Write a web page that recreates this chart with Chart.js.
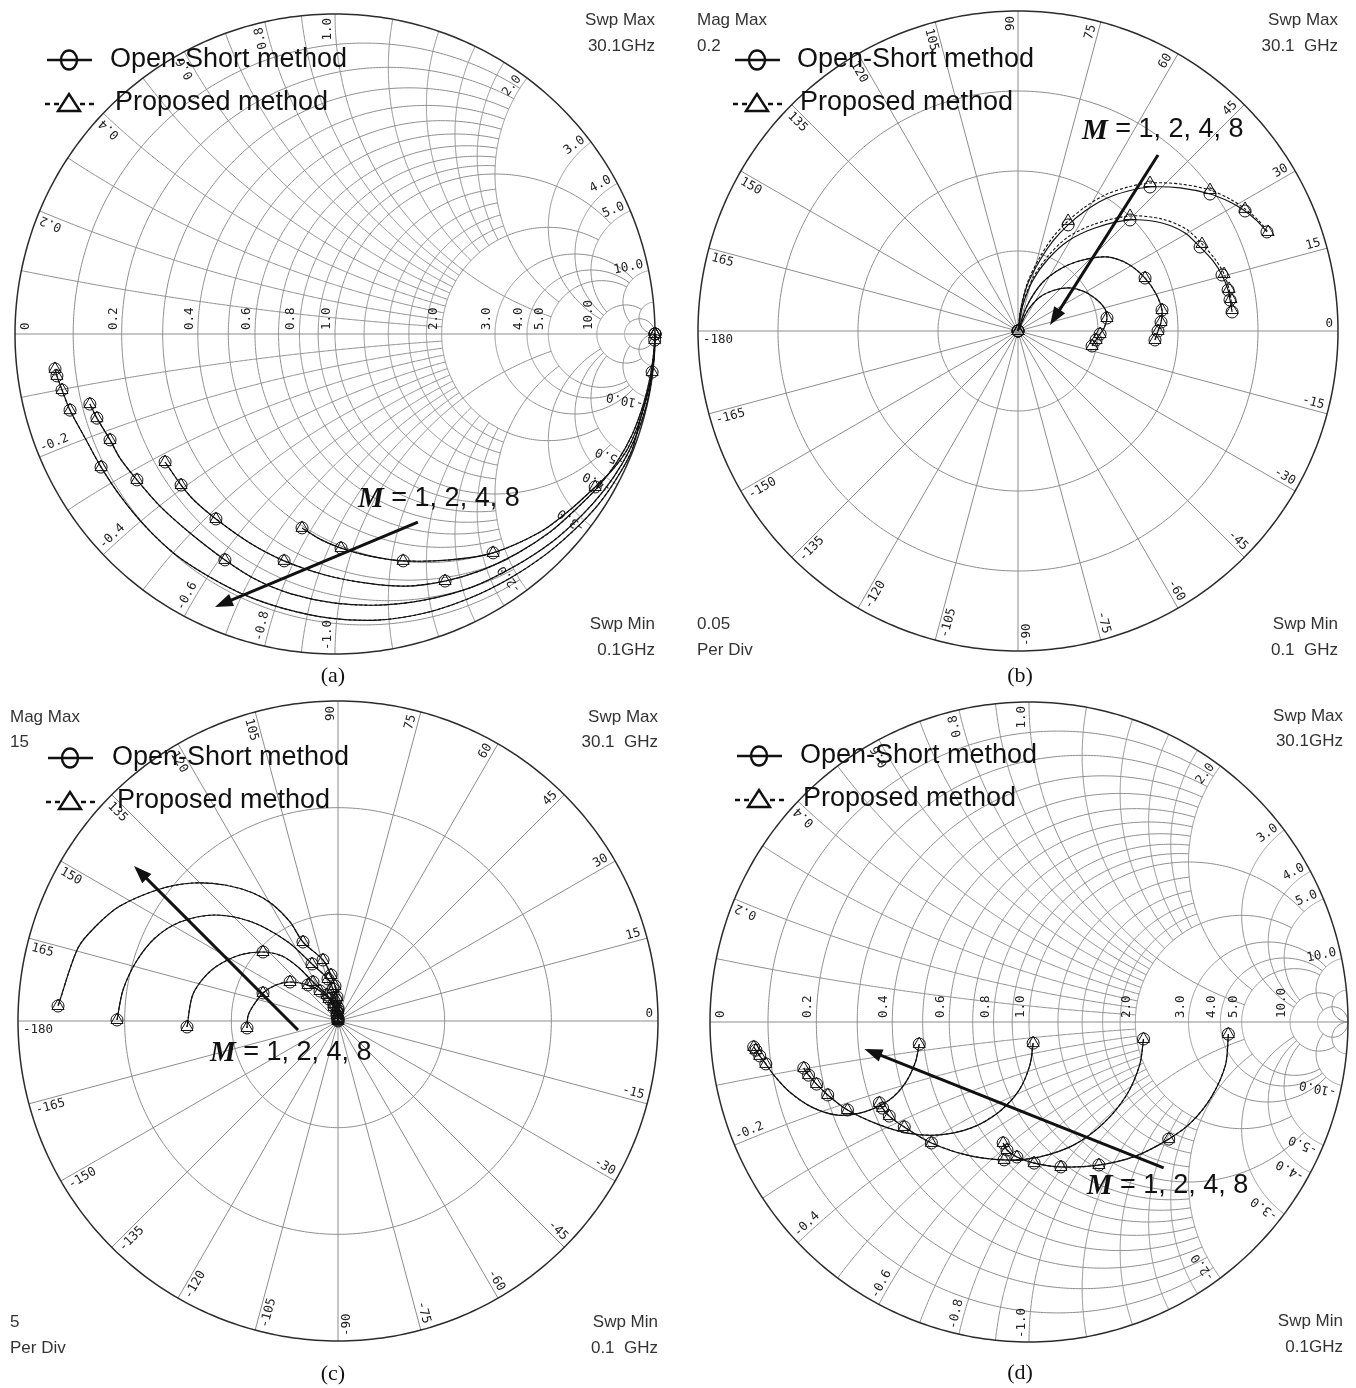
<!DOCTYPE html>
<html lang="en">
<head>
<meta charset="utf-8">
<title>Open-Short and proposed de-embedding, M = 1, 2, 4, 8</title>
<script src="https://cdn.jsdelivr.net/npm/chart.js@4.4.1/dist/chart.umd.min.js"></script>
<style>
  html, body { margin: 0; padding: 0; background: #fff; }
  body { position: relative; width: 1356px; height: 1388px; overflow: hidden; }
  canvas { position: absolute; }
  .cap { position: absolute; width: 60px; margin-left: -30px; text-align: center;
         font: 22px "Liberation Serif", "Times New Roman", serif; color: #111; line-height: 22px; }
</style>
</head>
<body>
<canvas id="cvA" width="678" height="690" style="left:0;top:0"></canvas>
<canvas id="cvB" width="678" height="690" style="left:678px;top:0"></canvas>
<canvas id="cvC" width="678" height="698" style="left:0;top:690px"></canvas>
<canvas id="cvD" width="678" height="698" style="left:678px;top:690px"></canvas>
<div class="cap" style="left:333px;top:664px">(a)</div>
<div class="cap" style="left:1020px;top:664px">(b)</div>
<div class="cap" style="left:333px;top:1362px">(c)</div>
<div class="cap" style="left:1020px;top:1361px">(d)</div>
<script>
// ---------------------------------------------------------------------------
// Data: sweep 0.1 GHz .. 30.1 GHz, one trace per finger count M.
// Each trace is a list of [re, im] samples; *_MK lists the samples that carry
// a marker symbol.
// ---------------------------------------------------------------------------
const M_VALUES = [1, 2, 4, 8];
const SERIES = ['Open-Short method', 'Proposed method'];

// (a) Smith chart, reflection coefficient (Re, Im)
const A_M1 = [[1.000,0.000],[0.999,-0.019],[0.997,-0.056],[0.991,-0.119],[0.975,-0.191],[0.953,-0.269],[0.916,-0.356],[0.869,-0.422],[0.813,-0.478],[0.734,-0.550],[0.641,-0.619],[0.494,-0.684],[0.359,-0.706],[0.213,-0.709],[0.109,-0.694],[0.019,-0.669],[-0.047,-0.641],[-0.103,-0.606]];
const A_M1_MK = [0,1,3,8,11,13,15,17];
const A_M2 = [[1.000,0.000],[0.997,-0.050],[0.984,-0.138],[0.963,-0.222],[0.928,-0.316],[0.881,-0.400],[0.822,-0.478],[0.750,-0.550],[0.672,-0.619],[0.572,-0.684],[0.459,-0.738],[0.344,-0.772],[0.219,-0.788],[0.094,-0.778],[-0.031,-0.753],[-0.159,-0.709],[-0.266,-0.653],[-0.372,-0.578],[-0.438,-0.522],[-0.481,-0.472],[-0.531,-0.400]];
const A_M2_MK = [0,11,15,17,19,20];
const A_M4 = [[1.000,0.000],[0.997,-0.066],[0.988,-0.150],[0.969,-0.238],[0.938,-0.325],[0.897,-0.406],[0.841,-0.488],[0.772,-0.566],[0.678,-0.650],[0.563,-0.725],[0.428,-0.791],[0.281,-0.831],[0.141,-0.847],[0.000,-0.841],[-0.134,-0.813],[-0.244,-0.769],[-0.344,-0.706],[-0.453,-0.622],[-0.547,-0.538],[-0.619,-0.456],[-0.672,-0.388],[-0.703,-0.331],[-0.744,-0.263],[-0.766,-0.219]];
const A_M4_MK = [0,16,19,21,22,23];
const A_M8 = [[1.000,0.000],[0.997,-0.075],[0.981,-0.169],[0.953,-0.269],[0.928,-0.363],[0.881,-0.450],[0.822,-0.534],[0.747,-0.613],[0.656,-0.691],[0.547,-0.763],[0.422,-0.825],[0.281,-0.872],[0.134,-0.894],[-0.016,-0.888],[-0.156,-0.859],[-0.281,-0.816],[-0.397,-0.756],[-0.500,-0.688],[-0.591,-0.603],[-0.669,-0.509],[-0.731,-0.416],[-0.781,-0.325],[-0.828,-0.238],[-0.853,-0.175],[-0.869,-0.131],[-0.875,-0.109]];
const A_M8_MK = [0,20,22,23,24,25];

// (b) polar, magnitude up to 0.2 (Re, Im)
const B_M1 = [[0,0],[0.0063,0.0131],[0.0138,0.0213],[0.0231,0.0256],[0.0325,0.0269],[0.0419,0.0244],[0.0494,0.0194],[0.0544,0.0138],[0.0556,0.0081],[0.0538,0.0019],[0.0513,-0.0019],[0.0488,-0.0056],[0.0463,-0.0094]];
const B_M1_MK = [0,8,10,11,12];
const B_M2 = [[0,0],[0.0056,0.0156],[0.0150,0.0300],[0.0275,0.0394],[0.0406,0.0444],[0.0556,0.0463],[0.0688,0.0419],[0.0794,0.0331],[0.0863,0.0231],[0.0900,0.0131],[0.0894,0.0056],[0.0875,0.0000],[0.0856,-0.0056]];
const B_M2_MK = [0,7,9,10,11,12];
const B_M4 = [[0,0],[0.0031,0.0163],[0.0094,0.0319],[0.0188,0.0450],[0.0313,0.0563],[0.0481,0.0644],[0.0700,0.0694],[0.0900,0.0675],[0.1044,0.0613],[0.1138,0.0525],[0.1219,0.0438],[0.1275,0.0350],[0.1313,0.0256],[0.1325,0.0194],[0.1338,0.0119]];
const B_M4_PM = [[0,0],[0.0031,0.0169],[0.0094,0.0331],[0.0188,0.0469],[0.0313,0.0588],[0.0481,0.0669],[0.0700,0.0719],[0.0900,0.0700],[0.1050,0.0638],[0.1150,0.0544],[0.1231,0.0450],[0.1288,0.0356],[0.1319,0.0263],[0.1331,0.0200],[0.1338,0.0131]];
const B_M4_MK = [0,6,9,11,12,13,14];
const B_M8 = [[0,0],[0.0019,0.0144],[0.0063,0.0300],[0.0138,0.0444],[0.0219,0.0563],[0.0313,0.0663],[0.0419,0.0750],[0.0544,0.0825],[0.0688,0.0875],[0.0825,0.0900],[0.1013,0.0894],[0.1200,0.0856],[0.1325,0.0806],[0.1419,0.0750],[0.1494,0.0688],[0.1556,0.0619]];
const B_M8_PM = [[0,0],[0.0019,0.0150],[0.0063,0.0313],[0.0138,0.0463],[0.0219,0.0588],[0.0313,0.0688],[0.0419,0.0775],[0.0544,0.0850],[0.0688,0.0900],[0.0825,0.0925],[0.1013,0.0919],[0.1200,0.0881],[0.1325,0.0825],[0.1419,0.0763],[0.1500,0.0694],[0.1563,0.0619]];
const B_M8_MK = [0,5,9,11,13,15];

// (c) polar, magnitude up to 15 (Re, Im)
const C_M1 = [[0,0],[-0.047,0.281],[-0.188,0.656],[-0.422,1.031],[-0.844,1.406],[-1.406,1.688],[-2.250,1.828],[-2.906,1.688],[-3.516,1.313],[-3.984,0.703],[-4.219,0.234],[-4.266,-0.328]];
const C_M1_MK = [0,1,2,3,4,5,6,8,11];
const C_M2 = [[0,0.047],[-0.047,0.422],[-0.188,0.797],[-0.516,1.219],[-1.172,1.828],[-1.875,2.531],[-2.625,3.047],[-3.516,3.234],[-4.594,3.094],[-5.672,2.578],[-6.375,1.922],[-6.844,1.125],[-7.078,-0.281]];
const C_M2_MK = [0,1,2,3,4,7,12];
const C_M4 = [[0,0.094],[0,0.516],[-0.094,0.984],[-0.234,1.500],[-0.469,1.969],[-1.219,2.672],[-2.344,3.703],[-4.031,4.641],[-5.766,4.969],[-7.406,4.641],[-8.578,3.891],[-9.469,2.766],[-10.078,1.453],[-10.359,0.047]];
const C_M4_MK = [0,1,2,3,4,5,13];
const C_M8 = [[0,0.141],[0,0.609],[-0.047,1.125],[-0.141,1.641],[-0.328,2.156],[-0.703,2.859],[-1.641,3.703],[-2.250,4.641],[-3.094,5.484],[-3.984,6.000],[-5.297,6.375],[-6.797,6.469],[-8.344,6.188],[-10.219,5.391],[-11.344,4.453],[-12.188,3.422],[-13.125,0.703]];
const C_M8_MK = [0,1,2,3,4,5,6,16];

// (d) Smith chart, reflection coefficient (Re, Im)
const D_M1 = [[0.625,-0.038],[0.616,-0.134],[0.572,-0.234],[0.509,-0.313],[0.438,-0.366],[0.334,-0.419],[0.219,-0.447],[0.100,-0.453],[0.016,-0.441],[-0.038,-0.422],[-0.069,-0.400],[-0.081,-0.378]];
const D_M1_MK = [0,4,6,7,8,9,10,11];
const D_M2 = [[0.359,-0.053],[0.347,-0.134],[0.306,-0.228],[0.234,-0.316],[0.141,-0.384],[0.031,-0.422],[-0.078,-0.431],[-0.194,-0.416],[-0.306,-0.378],[-0.391,-0.328],[-0.438,-0.294],[-0.459,-0.269],[-0.469,-0.253]];
const D_M2_MK = [0,6,8,9,10,11,12];
const D_M4 = [[0.013,-0.066],[0.003,-0.134],[-0.031,-0.213],[-0.094,-0.281],[-0.181,-0.331],[-0.281,-0.353],[-0.381,-0.347],[-0.475,-0.319],[-0.569,-0.275],[-0.631,-0.228],[-0.666,-0.194],[-0.691,-0.166],[-0.706,-0.144]];
const D_M4_MK = [0,8,9,10,11,12];
const D_M8 = [[-0.344,-0.069],[-0.356,-0.125],[-0.388,-0.191],[-0.438,-0.244],[-0.516,-0.281],[-0.600,-0.291],[-0.681,-0.266],[-0.750,-0.219],[-0.800,-0.166],[-0.825,-0.131],[-0.844,-0.106],[-0.856,-0.088],[-0.863,-0.078]];
const D_M8_MK = [0,9,10,11,12];

// Grid values: [value, limit of the crossing family]
const SMITH_R = [[0.1,2],[0.2,2],[0.3,2],[0.4,2],[0.5,2],[0.6,2],[0.7,2],[0.8,2],[0.9,2],[1,5],[1.2,2],[1.4,2],[1.6,2],[1.8,2],[2,5],[3,10],[4,10],[5,10],[10,20],[20,Infinity]];
const SMITH_X = [[0.1,2],[0.2,2],[0.3,2],[0.4,2],[0.5,2],[0.6,2],[0.7,2],[0.8,2],[0.9,2],[1,5],[1.2,2],[1.4,2],[1.6,2],[1.8,2],[2,5],[3,10],[4,10],[5,10],[10,20],[20,Infinity]];
const SMITH_R_LABELS = [0, 0.2, 0.4, 0.6, 0.8, 1, 2, 3, 4, 5, 10];
const SMITH_X_LABELS = [0.2, 0.4, 0.6, 0.8, 1, 2, 3, 4, 5, 10];
const POLAR_ANGLES = [0,15,30,45,60,75,90,105,120,135,150,165,180,-165,-150,-135,-120,-105,-90,-75,-60,-45,-30,-15];

// ---------------------------------------------------------------------------
// Styling
// ---------------------------------------------------------------------------
const GRID = '#8d8d8d', RIM = '#2b2b2b', INK = '#111', SOFT = '#333';
const SANS = '"Liberation Sans", Arial, Helvetica, sans-serif';
const MONO = '"DejaVu Sans Mono", "Liberation Mono", monospace';
const SERIF = '"Liberation Serif", "Times New Roman", serif';

function gammaOf(r, x) {
  const d = (r + 1) * (r + 1) + x * x;
  return [(r * r - 1 + x * x) / d, 2 * x / d];
}
function rCircle(r, xMax) {
  const pts = [], a = Math.atan(xMax), n = 400;
  for (let i = 0; i <= n; i++) pts.push(gammaOf(r, Math.tan(-a + 2 * a * i / n)));
  return pts;
}
function xArc(x, rMax) {
  const pts = [], a = Math.atan(rMax), n = 300;
  for (let i = 0; i <= n; i++) pts.push(gammaOf(Math.tan(a * i / n), x));
  return pts;
}
function ring(rad) {
  const pts = [];
  for (let i = 0; i <= 360; i++) { const t = i * Math.PI / 180; pts.push([rad * Math.cos(t), rad * Math.sin(t)]); }
  return pts;
}
function strokeData(chart, pts) {
  const ctx = chart.ctx, sx = chart.scales.x, sy = chart.scales.y;
  ctx.beginPath();
  pts.forEach((p, i) => {
    const X = sx.getPixelForValue(p[0]), Y = sy.getPixelForValue(p[1]);
    if (i) ctx.lineTo(X, Y); else ctx.moveTo(X, Y);
  });
  ctx.stroke();
}
function frame(chart) {
  const sx = chart.scales.x, sy = chart.scales.y;
  const cx = sx.getPixelForValue(0), cy = sy.getPixelForValue(0);
  return { cx, cy, rx: sx.right - cx, ry: cy - sy.top };
}
const fmt = v => v === 0 ? '0' : v.toFixed(1);

function drawSmith(chart) {
  const ctx = chart.ctx, f = frame(chart);
  ctx.save();
  ctx.strokeStyle = GRID; ctx.lineWidth = 1;
  SMITH_R.forEach(([r, xm]) => strokeData(chart, rCircle(r, xm)));
  SMITH_X.forEach(([x, rm]) => { strokeData(chart, xArc(x, rm)); strokeData(chart, xArc(-x, rm)); });
  strokeData(chart, [[-1, 0], [1, 0]]);
  ctx.strokeStyle = RIM; ctx.lineWidth = 1.5;
  strokeData(chart, ring(1));

  ctx.fillStyle = '#222'; ctx.font = '12.5px ' + MONO;
  SMITH_R_LABELS.forEach(r => {
    const X = chart.scales.x.getPixelForValue((r - 1) / (r + 1));
    ctx.save();
    ctx.translate(X + (r === 0 ? 4 : -2), f.cy - 4);
    ctx.rotate(-Math.PI / 2);
    ctx.textAlign = 'left'; ctx.textBaseline = r === 0 ? 'top' : 'bottom';
    ctx.fillText(fmt(r), 0, 0);
    ctx.restore();
  });
  SMITH_X_LABELS.forEach(v => [v, -v].forEach(x => {
    const g = gammaOf(0, x), t = Math.atan2(g[1], g[0]);
    ctx.save();
    ctx.translate(f.cx + (f.rx - 4) * Math.cos(t), f.cy - (f.ry - 4) * Math.sin(t));
    if (x > 0) { ctx.rotate(-t); ctx.textAlign = 'right'; }
    else { ctx.rotate(Math.PI - t); ctx.textAlign = 'left'; }
    ctx.textBaseline = 'bottom';
    ctx.fillText((x < 0 ? '-' : '') + fmt(Math.abs(x)), 0, -1);
    ctx.restore();
  }));
  ctx.restore();
}

function drawPolar(chart, lim, step) {
  const ctx = chart.ctx, f = frame(chart);
  ctx.save();
  ctx.strokeStyle = GRID; ctx.lineWidth = 1;
  for (let k = 1; k * step < lim - 1e-9; k++) strokeData(chart, ring(k * step));
  for (let d = 0; d < 360; d += 15) {
    const t = d * Math.PI / 180;
    strokeData(chart, [[0, 0], [lim * Math.cos(t), lim * Math.sin(t)]]);
  }
  ctx.strokeStyle = RIM; ctx.lineWidth = 1.5;
  strokeData(chart, ring(lim));

  ctx.fillStyle = '#222'; ctx.font = '12.5px ' + MONO;
  POLAR_ANGLES.forEach(d => {
    const t = d * Math.PI / 180, right = d > -90 && d <= 90;
    ctx.save();
    ctx.translate(f.cx + (f.rx - 5) * Math.cos(t), f.cy - (f.ry - 5) * Math.sin(t));
    if (right) { ctx.rotate(-t); ctx.textAlign = 'right'; ctx.textBaseline = 'bottom'; }
    else { ctx.rotate(Math.PI - t); ctx.textAlign = 'left'; ctx.textBaseline = 'top'; }
    ctx.fillText(d === 180 ? '-180' : String(d), 0, right ? -1 : 2);
    ctx.restore();
  });
  ctx.restore();
}

function drawLegend(ctx, L) {
  ctx.save();
  ctx.strokeStyle = INK; ctx.fillStyle = INK; ctx.lineWidth = 2.4;
  ctx.beginPath(); ctx.moveTo(L.x0, L.y1); ctx.lineTo(L.x1, L.y1); ctx.stroke();
  ctx.beginPath(); ctx.ellipse(L.xm, L.y1, 8, 9.5, 0, 0, 2 * Math.PI); ctx.stroke();
  ctx.setLineDash([5, 4]);
  ctx.beginPath(); ctx.moveTo(L.x0 - 2, L.y2 + 1); ctx.lineTo(L.xm - 10, L.y2 + 1);
  ctx.moveTo(L.xm + 11, L.y2 + 1); ctx.lineTo(L.x1 + 2, L.y2 + 1); ctx.stroke();
  ctx.setLineDash([]);
  ctx.beginPath();
  ctx.moveTo(L.xm, L.y2 - 9); ctx.lineTo(L.xm + 11, L.y2 + 8); ctx.lineTo(L.xm - 11, L.y2 + 8);
  ctx.closePath(); ctx.stroke();
  ctx.font = '27px ' + SANS; ctx.textBaseline = 'middle'; ctx.textAlign = 'left';
  ctx.fillText(SERIES[0], L.t1, L.y1);
  ctx.fillText(SERIES[1], L.t2, L.y2);
  ctx.restore();
}

function drawNote(chart, note) {
  const ctx = chart.ctx, sx = chart.scales.x, sy = chart.scales.y;
  const x0 = sx.getPixelForValue(note.from[0]), y0 = sy.getPixelForValue(note.from[1]);
  const x1 = sx.getPixelForValue(note.to[0]), y1 = sy.getPixelForValue(note.to[1]);
  const a = Math.atan2(y1 - y0, x1 - x0), L = 18, W = 6.5;
  ctx.save();
  ctx.strokeStyle = INK; ctx.fillStyle = INK; ctx.lineWidth = 3;
  ctx.beginPath(); ctx.moveTo(x0, y0);
  ctx.lineTo(x1 - L * 0.8 * Math.cos(a), y1 - L * 0.8 * Math.sin(a)); ctx.stroke();
  ctx.beginPath(); ctx.moveTo(x1, y1);
  ctx.lineTo(x1 - L * Math.cos(a) + W * Math.sin(a), y1 - L * Math.sin(a) - W * Math.cos(a));
  ctx.lineTo(x1 - L * Math.cos(a) - W * Math.sin(a), y1 - L * Math.sin(a) + W * Math.cos(a));
  ctx.closePath(); ctx.fill();
  const tx = sx.getPixelForValue(note.text[0]), ty = sy.getPixelForValue(note.text[1]);
  ctx.textBaseline = 'middle'; ctx.textAlign = 'left';
  ctx.font = 'italic bold 29px ' + SERIF;
  ctx.fillText('M', tx, ty + 1);
  const w = ctx.measureText('M').width;
  ctx.font = '27px ' + SANS;
  ctx.fillText(' = ' + M_VALUES.join(', '), tx + w, ty);
  ctx.restore();
}

function drawCorners(ctx, items) {
  ctx.save();
  ctx.fillStyle = SOFT; ctx.font = '17px ' + SANS; ctx.textBaseline = 'middle';
  items.forEach(([t, x, y, al]) => { ctx.textAlign = al; ctx.fillText(t, x, y); });
  ctx.restore();
}

// ---------------------------------------------------------------------------
// Panels
// ---------------------------------------------------------------------------
const PANELS = [
  { id: 'cvA', kind: 'smith', lim: 1,
    pad: { left: 15, top: 14, right: 23, bottom: 36 },
    os: [A_M1, A_M2, A_M4, A_M8], pm: [A_M1, A_M2, A_M4, A_M8], mk: [A_M1_MK, A_M2_MK, A_M4_MK, A_M8_MK],
    corners: [['Swp Max', 655, 20, 'right'], ['30.1GHz', 655, 46, 'right'], ['Swp Min', 655, 624, 'right'], ['0.1GHz', 655, 650, 'right']],
    legend: { x0: 47, x1: 92, xm: 69, y1: 60, y2: 103, t1: 110, t2: 115 },
    note: { text: [0.072, -0.513], from: [0.259, -0.588], to: [-0.375, -0.853] } },
  { id: 'cvB', kind: 'polar', lim: 0.2, step: 0.05,
    pad: { left: 20, top: 11, right: 18, bottom: 39 },
    os: [B_M1, B_M2, B_M4, B_M8], pm: [B_M1, B_M2, B_M4_PM, B_M8_PM], mk: [B_M1_MK, B_M2_MK, B_M4_MK, B_M8_MK],
    corners: [['Mag Max', 19, 20, 'left'], ['0.2', 19, 46, 'left'], ['Swp Max', 660, 20, 'right'], ['30.1  GHz', 660, 46, 'right'],
              ['0.05', 19, 624, 'left'], ['Per Div', 19, 650, 'left'], ['Swp Min', 660, 624, 'right'], ['0.1  GHz', 660, 650, 'right']],
    legend: { x0: 57, x1: 102, xm: 79, y1: 60, y2: 103, t1: 119, t2: 122 },
    note: { text: [0.040, 0.1256], from: [0.0875, 0.110], to: [0.020, 0.00375] } },
  { id: 'cvC', kind: 'polar', lim: 15, step: 5,
    pad: { left: 18, top: 11, right: 20, bottom: 47 },
    os: [C_M1, C_M2, C_M4, C_M8], pm: [C_M1, C_M2, C_M4, C_M8], mk: [C_M1_MK, C_M2_MK, C_M4_MK, C_M8_MK],
    corners: [['Mag Max', 10, 27, 'left'], ['15', 10, 52, 'left'], ['Swp Max', 658, 27, 'right'], ['30.1  GHz', 658, 52, 'right'],
              ['5', 10, 632, 'left'], ['Per Div', 10, 658, 'left'], ['Swp Min', 658, 632, 'right'], ['0.1  GHz', 658, 658, 'right']],
    legend: { x0: 48, x1: 93, xm: 70, y1: 68, y2: 111, t1: 112, t2: 117 },
    note: { text: [-6.0, -1.5], from: [-1.875, -0.422], to: [-9.56, 7.27] } },
  { id: 'cvD', kind: 'smith', lim: 1,
    pad: { left: 32, top: 12, right: 6, bottom: 46 },
    os: [D_M1, D_M2, D_M4, D_M8], pm: [D_M1, D_M2, D_M4, D_M8], mk: [D_M1_MK, D_M2_MK, D_M4_MK, D_M8_MK],
    corners: [['Swp Max', 665, 26, 'right'], ['30.1GHz', 665, 51, 'right'], ['Swp Min', 665, 631, 'right'], ['0.1GHz', 665, 657, 'right']],
    legend: { x0: 59, x1: 104, xm: 81, y1: 66, y2: 109, t1: 122, t2: 125 },
    note: { text: [0.181, -0.5125], from: [0.422, -0.456], to: [-0.516, -0.084] } }
];

function buildSets(P) {
  const sets = [];
  P.os.forEach((path, i) => {
    const mk = P.mk[i], pm = P.pm[i];
    sets.push({
      label: SERIES[0] + ', M = ' + M_VALUES[i],
      data: path.map(p => ({ x: p[0], y: p[1] })),
      showLine: true, borderColor: INK, borderWidth: 1.2, tension: 0.3, clip: false,
      pointStyle: 'circle', pointRadius: path.map((_, j) => mk.includes(j) ? 6 : 0),
      pointBorderColor: INK, pointBorderWidth: 1, pointBackgroundColor: 'rgba(0,0,0,0)'
    });
    sets.push({
      label: SERIES[1] + ', M = ' + M_VALUES[i],
      data: pm.map(p => ({ x: p[0], y: p[1] })),
      showLine: true, borderColor: INK, borderWidth: 1.1, borderDash: [3, 2], tension: 0.3, clip: false,
      pointStyle: 'triangle', pointRadius: pm.map((_, j) => mk.includes(j) ? 7 : 0),
      pointBorderColor: INK, pointBorderWidth: 1, pointBackgroundColor: 'rgba(0,0,0,0)'
    });
  });
  return sets;
}

PANELS.forEach(P => {
  const face = {
    id: 'face',
    beforeDatasetsDraw(chart) {
      if (P.kind === 'smith') drawSmith(chart); else drawPolar(chart, P.lim, P.step);
    },
    afterDatasetsDraw(chart) {
      drawNote(chart, P.note);
      drawLegend(chart.ctx, P.legend);
      drawCorners(chart.ctx, P.corners);
    }
  };
  new Chart(document.getElementById(P.id), {
    type: 'scatter',
    data: { datasets: buildSets(P) },
    options: {
      responsive: false, animation: false, devicePixelRatio: 1, events: [],
      layout: { padding: P.pad },
      scales: {
        x: { type: 'linear', min: -P.lim, max: P.lim, display: false },
        y: { type: 'linear', min: -P.lim, max: P.lim, display: false }
      },
      plugins: { legend: { display: false }, tooltip: { enabled: false } }
    },
    plugins: [face]
  });
});
</script>
</body>
</html>
